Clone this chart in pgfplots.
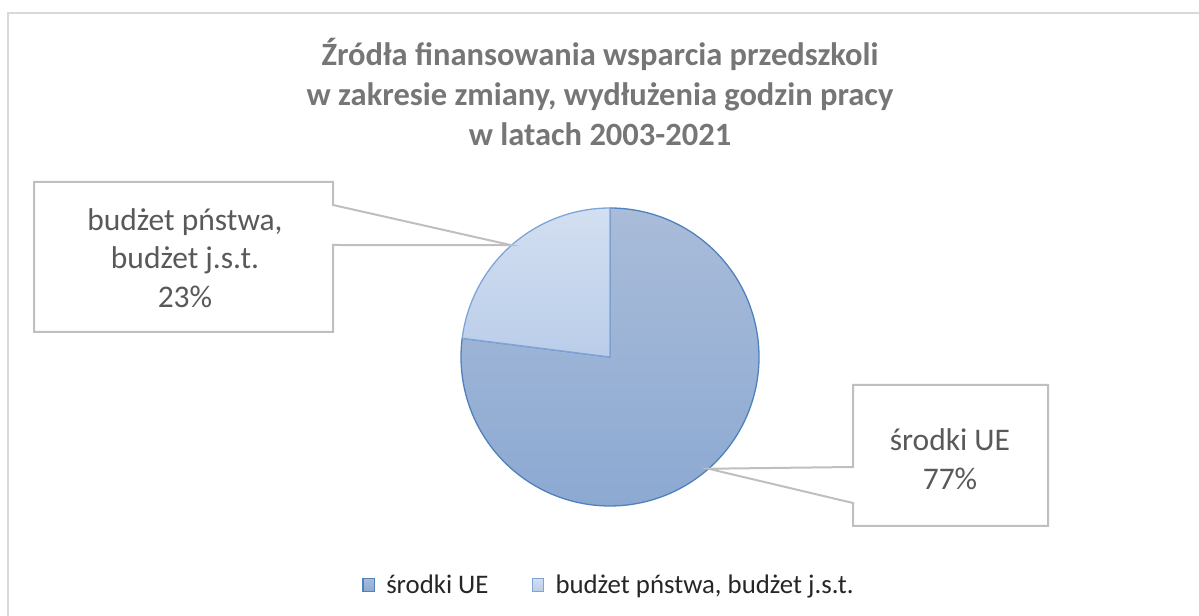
\documentclass[border=0pt]{standalone}
\usepackage{pgfplots}
\pgfplotsset{compat=1.18}
\usepackage{pgfplotstable}
\usepackage{fontspec}
\setmainfont{Carlito}

\definecolor{ueTop}{HTML}{A9BCD9}
\definecolor{ueBot}{HTML}{8CA9D2}
\definecolor{ueEdge}{HTML}{4F81BD}
\definecolor{jstTop}{HTML}{D3DFF1}
\definecolor{jstBot}{HTML}{BACDE9}
\definecolor{jstEdge}{HTML}{7FA5D8}
\definecolor{framec}{HTML}{D9D9D9}
\definecolor{boxc}{HTML}{BFBFBF}
\definecolor{titlec}{HTML}{767676}
\definecolor{labc}{HTML}{595959}
\definecolor{legc}{HTML}{262626}

\pgfplotstableread{
name value
UE 77
JST 23
}\piedata

\begin{document}%
\pgfplotstablegetelem{0}{value}\of\piedata \let\vUE\pgfplotsretval%
\pgfplotstablegetelem{1}{value}\of\piedata \let\vJST\pgfplotsretval%
\pgfmathsetmacro{\aS}{90}%
\pgfmathsetmacro{\aM}{90-3.6*\vUE}%
\pgfmathsetmacro{\aE}{\aM-3.6*\vJST}%
\pgfmathsetmacro{\mUE}{(\aS+\aM)/2}%
\pgfmathsetmacro{\mJST}{(\aM+\aE)/2}%
\begin{tikzpicture}[x=1bp,y=1bp]
\draw[framec, line width=2bp] (8,0) -- (8,603) -- (1199,603);
\begin{axis}[
  at={(461bp,110bp)}, anchor=south west,
  scale only axis, width=298bp, height=298bp,
  xmin=-1, xmax=1, ymin=-1, ymax=1,
  hide axis, clip=false,
  legend style={at={(axis description cs:-0.332,-0.265)}, anchor=west,
    draw=none, fill=none, legend columns=2,
    font=\fontsize{26.8bp}{32bp}\selectfont\color{legc},
    /tikz/every even column/.append style={column sep=41bp},
    cells={anchor=west}, inner sep=0pt},
]
\addplot[draw=ueEdge, line width=1.3bp, top color=ueTop, bottom color=ueBot,
  domain=\aM:\aS, samples=181, variable=\t,
  legend image code/.code={\pgfpathmoveto{\pgfpoint{0bp}{0bp}}\pgfpathlineto{\pgfpoint{22bp}{0bp}}\pgfusepath{}\draw[draw=ueEdge, line width=1.3bp, top color=ueTop, bottom color=ueBot] (0.7bp,-6.5bp) rectangle (12.3bp,6.5bp);}]
  ({cos(\t)},{sin(\t)}) -- (0,0) -- cycle;
\addlegendentry{środki UE}
\addplot[draw=jstEdge, line width=1.3bp, top color=jstTop, bottom color=jstBot,
  domain=\aE:\aM, samples=61, variable=\t,
  legend image code/.code={\pgfpathmoveto{\pgfpoint{0bp}{0bp}}\pgfpathlineto{\pgfpoint{22bp}{0bp}}\pgfusepath{}\draw[draw=jstEdge, line width=1.3bp, top color=jstTop, bottom color=jstBot] (0.7bp,-6.5bp) rectangle (12.3bp,6.5bp);}]
  ({cos(\t)},{sin(\t)}) -- (0,0) -- cycle;
\addlegendentry{budżet pństwa, budżet j.s.t.}
\coordinate (tipUE) at (axis cs:{cos(\mUE)},{sin(\mUE)});
\coordinate (tipJST) at (axis cs:{cos(\mJST)},{sin(\mJST)});
\end{axis}
% callouts
\draw[boxc, line width=2bp, line join=miter] (34,434) -- (333,434) -- (333,411) -- (tipJST) -- (333,371) -- (333,284) -- (34,284) -- cycle;
\draw[boxc, line width=2bp, line join=miter] (853,231) -- (1048,231) -- (1048,90) -- (853,90) -- (853,113) -- (tipUE) -- (853,149) -- cycle;
\node[text=labc, align=center, font=\fontsize{31.5bp}{38.5bp}\selectfont] at (185,358) {budżet pństwa,\\budżet j.s.t.\\\vJST\%};
\node[text=labc, align=center, font=\fontsize{31.5bp}{38.5bp}\selectfont] at (950,157) {środki UE\\\vUE\%};
% title
\node[text=titlec, align=center, font=\bfseries\fontsize{32.5bp}{40bp}\selectfont] at (600,524) {Źródła finansowania wsparcia przedszkoli\\w zakresie zmiany, wydłużenia godzin pracy\\w latach 2003-2021};
\pgfresetboundingbox
\path[use as bounding box] (0,0) rectangle (1199,616);
\end{tikzpicture}%
\end{document}
